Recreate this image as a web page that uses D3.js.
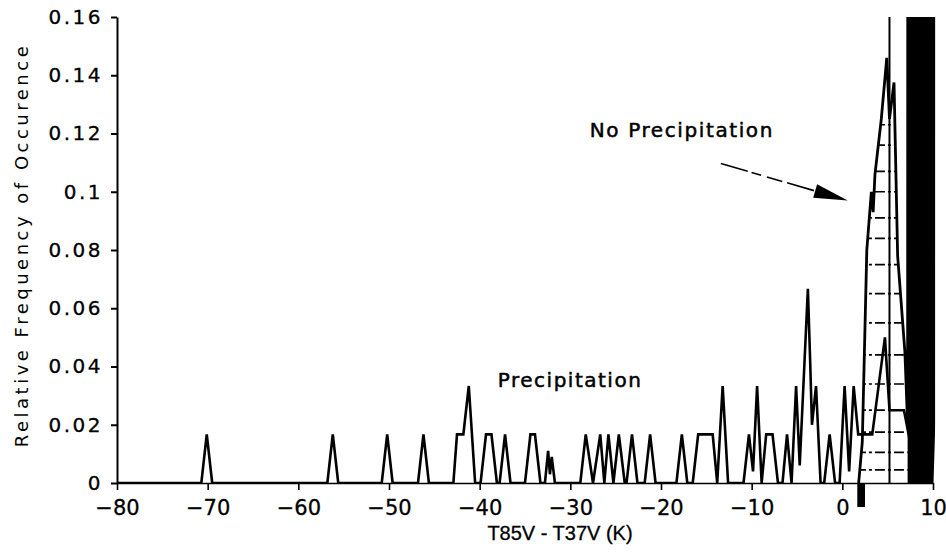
<!DOCTYPE html>
<html>
<head>
<meta charset="utf-8">
<script src="https://cdn.jsdelivr.net/npm/d3@7"></script>
<style>
  body { margin: 0; background: #fff; }
  svg { display: block; }
</style>
</head>
<body>
<svg width="946" height="554"></svg>
<script>
// ---- data ----
const xTicks = [-80, -70, -60, -50, -40, -30, -20, -10, 0, 10];
const yTicks = [0, 0.02, 0.04, 0.06, 0.08, 0.1, 0.12, 0.14, 0.16];

// precipitation curve, vertex by vertex
const precipX = [-80, -70.7, -70.1, -69.5, -56.8, -56.2, -55.6, -50.8, -50.2, -49.6,
  -46.8, -46.2, -45.6, -42.9, -42.5, -41.8, -41.2, -40.5, -39.9, -39.3,
  -38.7, -38.1, -37.8, -37.2, -36.6, -35.0, -34.4, -33.9, -33.3, -32.8,
  -32.45, -32.25, -32.05, -31.7, -28.9, -28.3, -27.5, -26.7, -26.25, -25.8,
  -25.25, -24.65, -24.0, -23.8, -23.2, -22.6, -21.8, -21.2, -20.6, -18.3,
  -17.7, -17.1, -16.5, -15.9, -14.3, -13.8, -13.2, -12.6, -10.9, -10.3,
  -9.85, -9.4, -8.9, -8.4, -7.7, -7.1, -6.6, -6.1, -5.6, -5.1,
  -4.7, -3.8, -3.55, -3.35, -2.9, -2.4, -2.0, -1.4, -0.8, -0.3,
  0.25, 0.75, 1.25, 1.75, 3.3, 4.7, 5.2, 6.8, 7.6, 8.6, 9.5, 9.9];
const precipY = [0, 0, 0.0167, 0, 0, 0.0167, 0, 0, 0.0167, 0,
  0, 0.0167, 0, 0, 0.0167, 0.0167, 0.0333, 0, 0, 0.0167,
  0.0167, 0, 0, 0.0167, 0, 0, 0.0167, 0.0167, 0, 0,
  0.011, 0.003, 0.009, 0, 0, 0.0167, 0, 0.0167, 0, 0.0167,
  0, 0.0167, 0, 0, 0.0167, 0, 0, 0.0167, 0, 0,
  0.0167, 0, 0, 0.0167, 0.0167, 0, 0.0333, 0, 0, 0.0167,
  0.004, 0.0333, 0, 0.0167, 0.0167, 0, 0, 0.0167, 0, 0.0333,
  0.006, 0.0667, 0.042, 0.02, 0.0333, 0, 0, 0.0167, 0, 0,
  0.0333, 0.004, 0.0333, 0.0167, 0.0167, 0.05, 0.025, 0.025, 0.012, 0.015, 0.004, 0];

// no-precipitation curve (goes far off the top of the scale past x = 7.2)
const noPrecipX = [1.8, 2.2, 2.7, 3.2, 3.4, 3.6, 4.3, 4.9, 5.2, 5.7, 6.1, 6.9, 7.2,
  7.25, 10.2, 10.1, 9.9];
const noPrecipY = [0, 0.014, 0.08, 0.1, 0.093, 0.106, 0.125, 0.146, 0.125, 0.1375, 0.078, 0.045, 0.02,
  0.5, 0.5, 0.02, 0];
const noPrecipMark = 5.2;
const noPrecipStub = [1.65, 2.5];
const hatchLevels = [0.123, 0.116, 0.107, 0.1, 0.091, 0.084, 0.075, 0.065,
  0.055, 0.044, 0.034, 0.025, 0.0175, 0.0105, 0.0045];

const arrowFrom = [-13.4, 0.1097];
const arrowTo = [0.6, 0.097];

// ---- drawing ----
const svg = d3.select("svg");
const x = d3.scaleLinear().domain([-80, 10]).range([117, 933]);
const y = d3.scaleLinear().domain([0, 0.16]).range([483, 17]);

const precip = precipX.map((v, i) => ({ x: v, y: precipY[i] }));
const noPrecip = noPrecipX.map((v, i) => ({ x: v, y: noPrecipY[i] }));
const hatched = noPrecip.filter(d => d.x <= 7.2);
const band = noPrecip.filter(d => d.x >= 7.2);

const defs = svg.append("defs");
defs.append("clipPath").attr("id", "plot")
  .append("rect")
  .attr("x", x(-80))
  .attr("y", y(0.16))
  .attr("width", x(10.25) - x(-80))
  .attr("height", y(0) - y(0.16) + 1);

const line = d3.line().x(d => x(d.x)).y(d => y(d.y));
const area = d3.area().x(d => x(d.x)).y0(y(0)).y1(d => y(d.y));

defs.append("clipPath").attr("id", "hatch")
  .append("path")
  .attr("d", area(hatched));

const plot = svg.append("g").attr("clip-path", "url(#plot)");

// hatch lines inside the no-precipitation curve
plot.append("g")
  .attr("clip-path", "url(#hatch)")
  .selectAll("line")
  .data(hatchLevels)
  .join("line")
  .attr("x1", x(1.5))
  .attr("x2", x(7.4))
  .attr("y1", d => y(d))
  .attr("y2", d => y(d))
  .attr("stroke", "#000")
  .attr("stroke-width", 1.7)
  .attr("stroke-dasharray", "10 3 3 3");

// precipitation
plot.append("path")
  .datum(precip)
  .attr("fill", "none")
  .attr("stroke", "#000")
  .attr("stroke-width", 2.6)
  .attr("stroke-linejoin", "miter")
  .attr("d", line);

// no precipitation
plot.append("path")
  .datum(noPrecip)
  .attr("fill", "none")
  .attr("stroke", "#000")
  .attr("stroke-width", 2.8)
  .attr("d", line);

plot.append("path")
  .datum(band)
  .attr("fill", "#000")
  .attr("d", area);

plot.append("line")
  .attr("x1", x(noPrecipMark)).attr("x2", x(noPrecipMark))
  .attr("y1", y(0)).attr("y2", y(0.16))
  .attr("stroke", "#000")
  .attr("stroke-width", 2);

svg.append("rect")
  .attr("x", x(noPrecipStub[0]))
  .attr("y", y(0))
  .attr("width", x(noPrecipStub[1]) - x(noPrecipStub[0]))
  .attr("height", 24)
  .attr("fill", "#000");

// axes
const gx = svg.append("g")
  .attr("transform", `translate(0,${y(0)})`)
  .call(d3.axisBottom(x).tickValues(xTicks).tickSize(7).tickSizeOuter(0).tickPadding(10))
  .attr("font-family", "'DejaVu Sans', sans-serif")
  .attr("font-size", 21);
gx.selectAll("path, line").attr("stroke-width", 1.6);
gx.selectAll("text").attr("fill", "#000").attr("stroke", "#000").attr("stroke-width", 0.3);

const gy = svg.append("g")
  .attr("transform", `translate(${x(-80)},0)`)
  .call(d3.axisLeft(y).tickValues(yTicks).tickFormat(d3.format("~g")).tickSize(6).tickSizeOuter(0).tickPadding(8))
  .attr("font-family", "'DejaVu Sans', sans-serif")
  .attr("font-size", 20);
gy.selectAll("path, line").attr("stroke-width", 2);
gy.selectAll("text").attr("fill", "#000").attr("stroke", "#000").attr("stroke-width", 0.3)
  .style("letter-spacing", "2.5px");

// axis titles
svg.append("text")
  .attr("x", 560)
  .attr("y", 540)
  .attr("text-anchor", "middle")
  .attr("font-family", "'Liberation Sans', Arial, sans-serif")
  .attr("font-size", 20)
  .attr("stroke", "#000")
  .attr("stroke-width", 0.3)
  .text("T85V - T37V (K)");

svg.append("text")
  .attr("transform", "translate(28,245) rotate(-90)")
  .attr("text-anchor", "middle")
  .attr("font-family", "'DejaVu Sans', sans-serif")
  .attr("font-size", 18)
  .style("letter-spacing", "3.5px")
  .text("Relative Frequency of Occurence");

// annotations
svg.append("text")
  .attr("x", x(-27.85))
  .attr("y", y(0.1187))
  .attr("font-family", "'DejaVu Sans', sans-serif")
  .attr("font-size", 20)
  .attr("stroke", "#000")
  .attr("stroke-width", 0.5)
  .style("letter-spacing", "1.6px")
  .text("No Precipitation");

svg.append("text")
  .attr("x", x(-38.0))
  .attr("y", y(0.0329))
  .attr("font-family", "'DejaVu Sans', sans-serif")
  .attr("font-size", 20)
  .attr("stroke", "#000")
  .attr("stroke-width", 0.5)
  .style("letter-spacing", "1.5px")
  .text("Precipitation");

// arrow
const p0 = [x(arrowFrom[0]), y(arrowFrom[1])];
const p1 = [x(arrowTo[0]), y(arrowTo[1])];
const dx = p1[0] - p0[0], dy = p1[1] - p0[1];
const len = Math.hypot(dx, dy);
const ux = dx / len, uy = dy / len;
const headLen = 34, headW = 7;
const base = [p1[0] - ux * headLen, p1[1] - uy * headLen];

svg.append("line")
  .attr("x1", p0[0]).attr("y1", p0[1])
  .attr("x2", base[0]).attr("y2", base[1])
  .attr("stroke", "#000")
  .attr("stroke-width", 1.6)
  .attr("stroke-dasharray", "28 4 10 6 16 5");

svg.append("path")
  .attr("d", `M${p1[0]},${p1[1]}L${base[0] - uy * headW},${base[1] + ux * headW}L${base[0] + uy * headW},${base[1] - ux * headW}Z`)
  .attr("fill", "#000");
</script>
</body>
</html>
